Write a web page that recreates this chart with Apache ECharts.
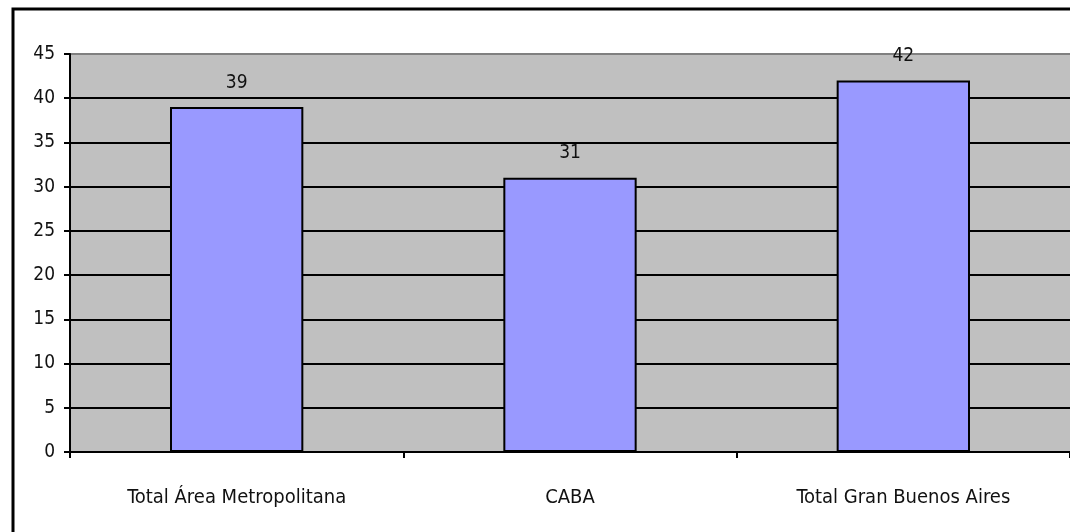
<!DOCTYPE html>
<html>
<head>
<meta charset="utf-8">
<script src="https://cdn.jsdelivr.net/npm/echarts@6/dist/echarts.min.js"></script>
<style>
html,body{margin:0;padding:0;background:#fff;}
#c{width:1070px;height:532px;}
</style>
</head>
<body>
<div id="c"></div>
<script>
const categories = ['Total Área Metropolitana', 'CABA', 'Total Gran Buenos Aires'];
const values = [39, 31, 42];
const yTicks = [0, 5, 10, 15, 20, 25, 30, 35, 40, 45];

const FONT = '"DejaVu Sans Condensed", "Liberation Sans Narrow", "Arial Narrow", sans-serif';
const chart = echarts.init(document.getElementById('c'), null, {renderer: 'canvas'});
const gridColors = yTicks.map((t, i) => i === yTicks.length - 1 ? '#808080' : '#000000');
chart.setOption({
  animation: false,
  backgroundColor: '#ffffff',
  graphic: [{
    type: 'rect', z: 100,
    shape: {x: 13, y: 9, width: 1200, height: 700},
    style: {fill: 'none', stroke: '#000', lineWidth: 3}
  }],
  grid: {left: 70, right: 0, top: 54, bottom: 80, show: true, backgroundColor: '#C0C0C0', borderWidth: 0},
  xAxis: {
    type: 'category', data: categories,
    axisLine: {lineStyle: {color: '#000', width: 2}},
    axisTick: {show: true, length: 6, lineStyle: {color: '#000', width: 2}, alignWithLabel: false},
    axisLabel: {color: '#111', fontFamily: FONT, fontSize: 20, margin: 36}
  },
  yAxis: {
    type: 'value', min: 0, max: 45, interval: 5,
    axisLine: {show: true, lineStyle: {color: '#000', width: 2}},
    axisTick: {show: true, length: 6, lineStyle: {color: '#000', width: 2}},
    axisLabel: {color: '#111', fontFamily: FONT, fontSize: 19, margin: 15},
    splitLine: {show: true, lineStyle: {color: gridColors, width: 2}}
  },
  series: [{
    type: 'bar', data: values, barWidth: '40%',
    itemStyle: {color: '#9999FF', borderColor: '#000', borderWidth: 2},
    label: {show: true, position: 'top', distance: 15, color: '#111', fontFamily: FONT, fontSize: 19}
  }]
});
</script>
</body>
</html>
